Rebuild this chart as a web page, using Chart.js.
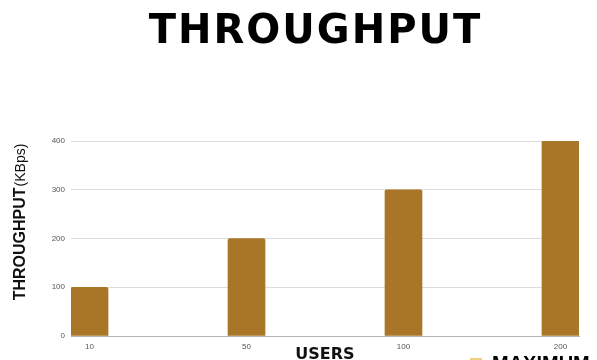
<!DOCTYPE html>
<html>
<head>
<meta charset="utf-8">
<script src="https://cdn.jsdelivr.net/npm/chart.js@4"></script>
<style>
  html, body { margin:0; padding:0; background:#fff; overflow:hidden; }
  #wrap { position:relative; width:597px; height:398px; }
  #title {
    position:absolute; left:0; top:5px; width:597px; text-align:center;
    font-family:"DejaVu Sans", sans-serif; font-weight:bold; font-size:40px;
    letter-spacing:2px; color:#000; line-height:48px; padding-left:34px; box-sizing:border-box;
  }
  canvas { position:absolute; left:0; top:0; }
</style>
</head>
<body>
<div id="wrap">
  <canvas id="throughputChart"></canvas>
  <div id="title">THROUGHPUT</div>
</div>
<script>
/* ===== data ===== */
const users = ["10", "50", "100", "200"];
const throughput = [100, 200, 300, 400];
const yTicks = [0, 100, 200, 300, 400];
const legendText = "MAXIMUM";

const barColor = "#a97527";

/* ===== y axis title with two fonts ===== */
const yTitlePlugin = {
  id: "yTitleMixed",
  afterDraw(chart){
    const ctx = chart.ctx;
    const boldPart = "THROUGHPUT";
    const plainPart = "(KBps)";
    ctx.save();
    ctx.translate(21, 222);
    ctx.rotate(-Math.PI / 2);
    ctx.textBaseline = "middle";
    ctx.fillStyle = "#111";
    ctx.font = "bold 16px 'Liberation Sans', Arial, sans-serif";
    const w1 = ctx.measureText(boldPart).width;
    ctx.font = "14px 'Liberation Sans', Arial, sans-serif";
    const w2 = ctx.measureText(plainPart).width;
    let x = -(w1 + w2 + 1) / 2;
    ctx.font = "bold 16px 'Liberation Sans', Arial, sans-serif";
    ctx.fillText(boldPart, x, 0);
    ctx.font = "14px 'Liberation Sans', Arial, sans-serif";
    ctx.fillText(plainPart, x + w1 + 1, 0);
    ctx.restore();
  }
};

/* legend sits tucked under the x axis, mostly cut off by the window */
const legendShift = {
  id: "legendShift",
  afterLayout(chart){
    const lg = chart.legend;
    if(!lg) return;
    lg.top -= 14;
    lg.bottom -= 14;
    lg.left = 466;
    lg.right = 700;
    lg.width = 234;
  }
};

const ctx = document.getElementById("throughputChart");

new Chart(ctx, {
  type: "bar",
  data: {
    datasets: [{
      label: legendText,
      data: throughput.map((v, i) => ({ x: i, y: v })),
      backgroundColor: barColor,
      borderRadius: { topLeft: 2, topRight: 2 },
      borderSkipped: "bottom",
      barThickness: 37
    }]
  },
  options: {
    responsive: true,
    maintainAspectRatio: false,
    animation: false,
    layout: { padding: { top: 141, right: 18, left: 0, bottom: 0 } },
    plugins: {
      legend: {
        position: "bottom",
        align: "start",
        labels: {
          boxWidth: 12,
          boxHeight: 12,
          padding: 4,
          color: "#111",
          font: { family: "'Liberation Sans', Arial, sans-serif", size: 20, weight: "bold" },
          generateLabels(chart){
            return chart.data.datasets.map((ds, i) => ({
              text: ds.label,
              fillStyle: "#f0d27e",
              strokeStyle: "#f0d27e",
              lineWidth: 0,
              datasetIndex: i
            }));
          }
        }
      },
      tooltip: { enabled: false }
    },
    scales: {
      x: {
        type: "linear",
        offset: false,
        min: -0.118,
        max: 3.118,
        afterFit(scale){ scale.height = 28; },
        grid: { display: false },
        border: { display: true, color: "#b5b5b5", width: 1 },
        ticks: {
          stepSize: 1,
          includeBounds: false,
          autoSkip: false,
          maxRotation: 0,
          padding: -2,
          color: "#555",
          font: { family: "'Liberation Sans', Arial, sans-serif", size: 8 },
          callback: v => Number.isInteger(v) ? users[v] : ""
        },
        title: {
          display: true,
          text: "USERS",
          color: "#111",
          padding: { top: 0, bottom: 0 },
          font: { family: "'DejaVu Sans', sans-serif", size: 16, weight: "bold" }
        }
      },
      y: {
        min: 0,
        max: 400,
        afterFit(scale){ scale.width = 71; },
        grid: { color: "#dcdcdc", drawTicks: false },
        border: { display: false },
        afterBuildTicks(scale){ scale.ticks = yTicks.map(v => ({ value: v })); },
        ticks: {
          padding: 6,
          color: "#555",
          font: { family: "'Liberation Sans', Arial, sans-serif", size: 8 }
        }
      }
    }
  },
  plugins: [yTitlePlugin, legendShift]
});
</script>
</body>
</html>
